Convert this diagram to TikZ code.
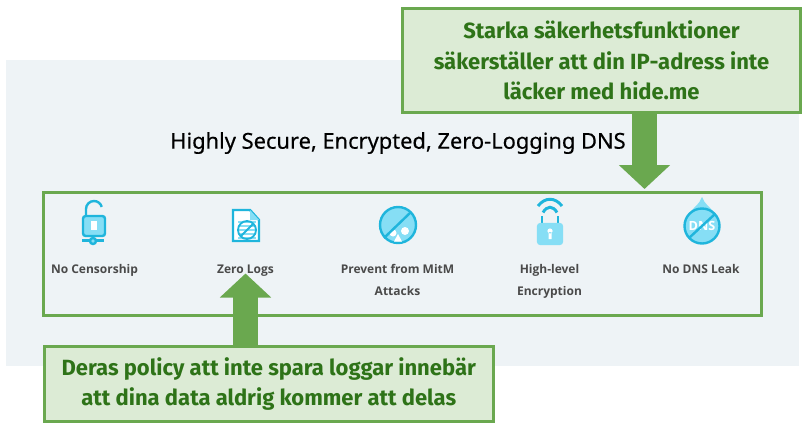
\documentclass[tikz,border=0pt]{standalone}
\usepackage{fontspec}
\usetikzlibrary{positioning,arrows.meta}
\setmainfont{Open Sans}
\newfontfamily\callfont{Fira Sans}
\newfontfamily\titlefont[FakeBold=0.4]{Noto Sans}
\definecolor{panelbg}{HTML}{EEF3F6}
\definecolor{boxgreen}{HTML}{6AA84F}
\definecolor{boxfill}{HTML}{DCEBD5}
\definecolor{calltext}{HTML}{2E7318}
\definecolor{labeltext}{HTML}{4A4A4A}
\definecolor{iconline}{HTML}{1FB5DC}
\definecolor{iconfill}{HTML}{86DEF5}
\tikzset{
  callout/.style={draw=boxgreen,line width=2.25pt,fill=boxfill,text=calltext,align=center,inner sep=0pt,
    font=\callfont\bfseries\fontsize{16.5}{23}\selectfont},
  feature/.style={text=labeltext,align=center,inner sep=0pt,font=\bfseries\fontsize{9}{16.5}\selectfont},
  bigarrow/.style={boxgreen,line width=18.75pt,-{Triangle[width=37.5pt,length=18pt]}},
  iconl/.style={draw=iconline,line width=1.8pt},
  iconf/.style={iconl,fill=iconfill},
  iconw/.style={fill=white,draw=none}
}

\begin{document}
\begin{tikzpicture}[x=0.75pt,y=-0.75pt]
	\useasboundingbox (0,0) rectangle (806,429);
	\fill[panelbg] (6,60) rectangle (799,366);
	%
	\node[draw=boxgreen,line width=2.25pt,minimum width=538.5pt,minimum height=92.25pt,inner sep=0pt] (frame) at (402.5,254) {};
	\node[callout,minimum width=298.5pt,minimum height=78pt] (top) at (601.5,60.5) {Starka säkerhetsfunktioner\\säkerställer att din IP-adress inte\\läcker med hide.me};
	\node[callout,minimum width=337pt,minimum height=56.25pt] (bottom) at (268.75,384) {Deras policy att inte spara loggar innebär\\att dina data aldrig kommer att delas};
	\node[inner sep=0pt,font=\titlefont\fontsize{16.4}{19}\selectfont] (title) at (398,143) {Highly Secure, Encrypted, Zero-Logging DNS};
	%
	\node[feature,anchor=base] (censor) at (94.5,273.5) {No Censorship};
	\node[feature,anchor=base] (zero) at (245.5,273.5) {Zero Logs};
	\node[feature,anchor=north] (mitm) at (397.5,264.5) {Prevent from MitM\\Attacks};
	\node[feature,anchor=north] (level) at (549.5,264.5) {High-level\\Encryption};
	\node[feature,anchor=base] (leak) at (701,273.5) {No DNS Leak};
	%
	\draw[bigarrow,shorten >=1.5pt] (top.south -| 644.5,0) -- (frame.north -| 644.5,0);
	\draw[bigarrow] (bottom.north -| zero.base) -- (zero.base);
	%
	% open lock
	\draw[iconl] (86,216) -- (86,209) arc (180:345:8);
	\draw[iconl] (93,236) -- (93,241) (82,240.5) -- (104,240.5);
	\draw[iconf,rounded corners=2pt] (83,216) rectangle (105,236);
	\draw[iconf] (93,241) circle (3);
	\fill[iconw] (91,221) rectangle (97,230);
	% log sheet
	\draw[iconl,fill=white] (233,210) -- (250,210) -- (259,220) -- (259,241) -- (233,241) -- cycle;
	\fill[iconfill] (250,210) -- (250,220) -- (259,220) -- cycle;
	\foreach \rowy in {222,226,230,234,238}
		\draw[iconfill,line width=1.2pt] (238,\rowy) -- (256,\rowy);
	\draw[iconl,line width=1.4pt] (247,230) circle (9) (240.5,236.5) -- (253.5,223.5);
	% skull
	\draw[iconf] (398,225) circle (18);
	\fill[iconw] (393,233) circle (3.5) (405,231) circle (4) (394,241.5) -- (398,234) -- (402,241.5) -- cycle;
	\draw[iconl] (384,238) -- (411,212);
	% wifi lock
	\draw[iconl] (542,225) -- (542,216) (558,225) -- (558,216);
	\draw[iconl,line width=2.2pt] (538,206) .. controls (545,197) and (555,197) .. (562,206);
	\draw[iconl,line width=2.2pt] (543,212.5) .. controls (547,205.5) and (553,205.5) .. (557,212.5);
	\draw[iconf,draw=iconfill,rounded corners=2pt] (538,224) rectangle (562,244);
	\fill[iconw] (550,231) circle (2.6) (548.5,232) rectangle (551.5,239);
	% dns drop
	\fill[iconfill] (702,197) .. controls (704,204) and (712,208) .. (716,216) -- (688,216) .. controls (692,208) and (700,204) .. (702,197) -- cycle;
	\draw[iconf] (702,226) circle (17.5);
	\node[text=white,inner sep=0pt,font=\bfseries\fontsize{9.5}{10}\selectfont] (dns) at (702,226) {DNS};
	\draw[iconl] (689,238) -- (715,214);
\end{tikzpicture}
\end{document}
